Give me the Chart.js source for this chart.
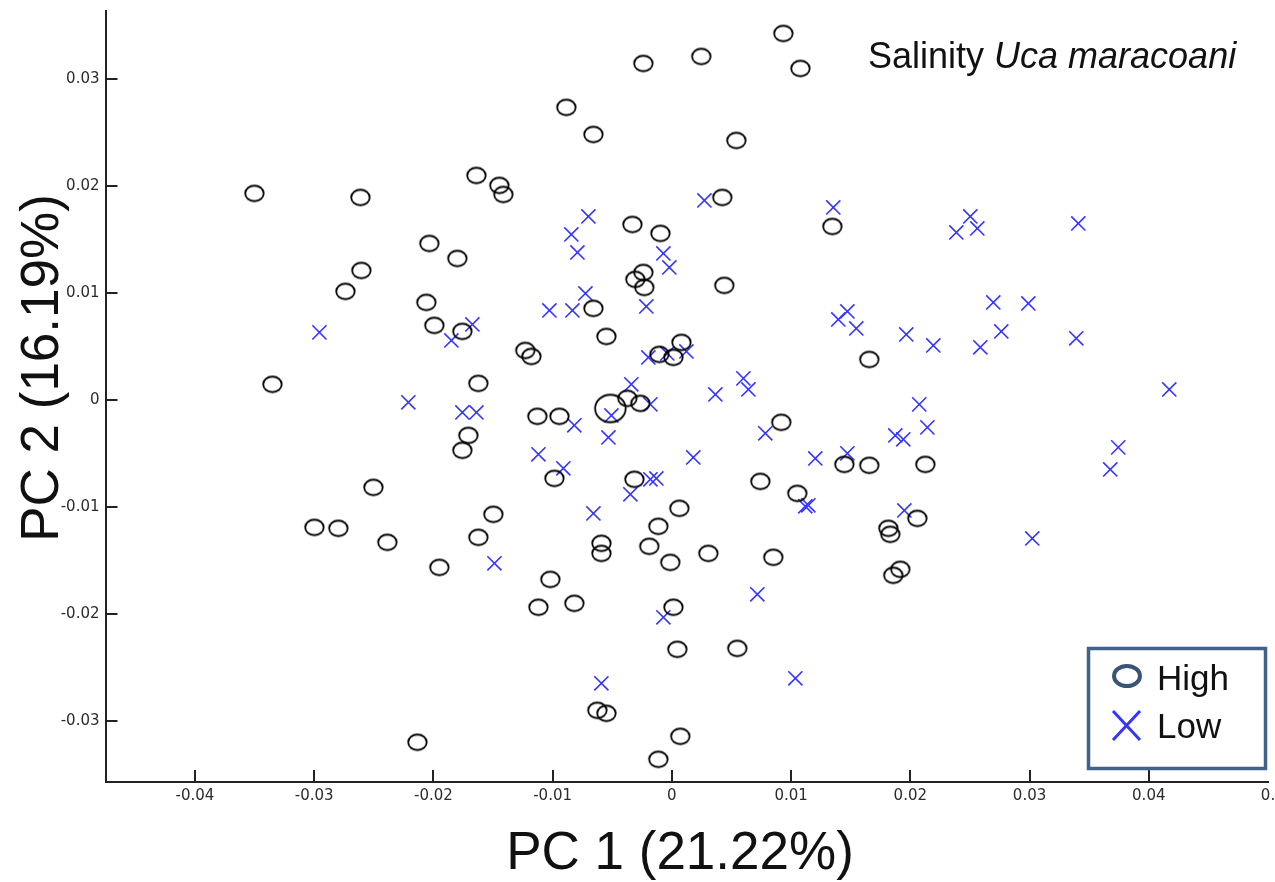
<!DOCTYPE html>
<html>
<head>
<meta charset="utf-8">
<title>Salinity Uca maracoani PCA</title>
<script src="https://cdn.jsdelivr.net/npm/chart.js@4.4.1/dist/chart.umd.min.js"></script>
<style>
  html, body { margin: 0; padding: 0; background: #fff; }
</style>
</head>
<body>
<canvas id="pca" width="1275" height="882"></canvas>
<script>
// PC scores
const highX = [0.00935, 0.00247, 0.01078, -0.00239, -0.00885, -0.00658, 0.00541, -0.03501, -0.02612, -0.01639,
  -0.01447, -0.01413, 0.00423, -0.00331, -0.00096, 0.01346, -0.02034, -0.01799, -0.02604, -0.02738,
  -0.02059, -0.01992, -0.01757, -0.00239, -0.00306, -0.00231, -0.00658, 0.00440, -0.00549, -0.01229,
  -0.01178, -0.00105, 0.00013, 0.00080, -0.03350, -0.01623, 0.01656, -0.00373, -0.00264, -0.01128,
  -0.00943, 0.00918, -0.01707, -0.01757, -0.00985, -0.00314, 0.00742, -0.02503, 0.01447, 0.01656,
  0.02126, 0.01052, -0.02998, -0.02797, -0.02386, -0.01497, 0.00063, -0.00113, -0.01623, -0.00591,
  -0.00591, -0.00189, 0.00306, -0.00013, 0.00851, 0.01816, 0.01832, 0.02059, 0.01916, 0.01857,
  -0.01950, -0.01019, -0.01119, -0.00818, 0.00013, 0.00046, 0.00549, -0.00625, -0.00549, 0.00071,
  -0.00113, -0.02134];
const highY = [0.03427, 0.03212, 0.03100, 0.03147, 0.02736, 0.02483, 0.02427, 0.01932, 0.01894, 0.02100,
  0.02007, 0.01922, 0.01894, 0.01642, 0.01558, 0.01623, 0.01464, 0.01324, 0.01212, 0.01016,
  0.00913, 0.00698, 0.00642, 0.01193, 0.01128, 0.01053, 0.00857, 0.01072, 0.00595, 0.00464,
  0.00408, 0.00427, 0.00399, 0.00539, 0.00147, 0.00156, 0.00380, 0.00016, -0.00031, -0.00152,
  -0.00152, -0.00208, -0.00330, -0.00470, -0.00732, -0.00741, -0.00760, -0.00816, -0.00601, -0.00610,
  -0.00601, -0.00872, -0.01190, -0.01199, -0.01330, -0.01068, -0.01012, -0.01180, -0.01283, -0.01339,
  -0.01433, -0.01367, -0.01433, -0.01517, -0.01470, -0.01199, -0.01255, -0.01106, -0.01582, -0.01638,
  -0.01564, -0.01676, -0.01937, -0.01900, -0.01937, -0.02330, -0.02321, -0.02900, -0.02928, -0.03143,
  -0.03358, -0.03199];

// the one large ring near the origin
const centerX = [-0.00516];
const centerY = [-0.00078];

const lowX = [-0.02956, -0.02210, -0.01757, -0.01639, -0.01673, -0.01849, -0.01488, -0.01119, -0.01027, -0.00834,
  -0.00700, -0.00843, -0.00792, -0.00725, -0.00910, -0.00818, -0.00658, -0.00591, -0.00532, -0.00507,
  -0.00340, -0.00348, -0.00214, -0.00180, -0.00197, -0.00038, 0.00122, -0.00071, -0.00021, -0.00180,
  -0.00130, -0.00071, 0.00180, 0.00273, 0.00365, 0.00600, 0.00642, 0.00717, 0.00784, 0.01036,
  0.01119, 0.01145, 0.01203, 0.01354, 0.01396, 0.01472, 0.01547, 0.01472, 0.01874, 0.01941,
  0.01966, 0.01950, 0.02075, 0.02143, 0.02193, 0.02386, 0.02503, 0.02562, 0.02587, 0.02696,
  0.02763, 0.02990, 0.03023, 0.03392, 0.03409, 0.03677, 0.03744, 0.04172];
const lowY = [0.00633, -0.00021, -0.00115, -0.00115, 0.00707, 0.00558, -0.01526, -0.00507, 0.00838, 0.00838,
  0.01717, 0.01549, 0.01380, 0.00997, -0.00638, -0.00236, -0.01059, -0.02648, -0.00349, -0.00143,
  0.00147, -0.00881, 0.00876, -0.00040, 0.00399, 0.00436, 0.00455, 0.01371, 0.01240, -0.00741,
  -0.00732, -0.02031, -0.00536, 0.01866, 0.00053, 0.00203, 0.00100, -0.01816, -0.00311, -0.02601,
  -0.00993, -0.00984, -0.00545, 0.01801, 0.00754, 0.00829, 0.00670, -0.00498, -0.00330, -0.00367,
  0.00614, -0.01031, -0.00040, -0.00255, 0.00511, 0.01567, 0.01717, 0.01605, 0.00493, 0.00913,
  0.00642, 0.00904, -0.01293, 0.00577, 0.01651, -0.00648, -0.00442, 0.00100];

const xTicks = [-0.04, -0.03, -0.02, -0.01, 0, 0.01, 0.02, 0.03, 0.04, 0.05];
const xTickLabels = ["-0.04", "-0.03", "-0.02", "-0.01", "0", "0.01", "0.02", "0.03", "0.04", "0."];
const yTicks = [-0.03, -0.02, -0.01, 0, 0.01, 0.02, 0.03];
const yTickLabels = ["-0.03", "-0.02", "-0.01", "0", "0.01", "0.02", "0.03"];

const xTitle = "PC 1 (21.22%)";
const yTitle = "PC 2 (16.19%)";
const titlePlain = "Salinity ";
const titleItalic = "Uca maracoani";
const groupNames = ["High", "Low"];

const SANS = '"Liberation Sans", Arial, sans-serif';
const TICK_FONT = { family: '"DejaVu Sans", Verdana, sans-serif', size: 15 };
const INK = "#111";
const LOW_BLUE = "#3535ff";

const toPoints = (xs, ys) => xs.map((x, i) => ({ x, y: ys[i] }));

// slightly flattened open rings, like the source markers
function ring(w, h, lw) {
  const c = document.createElement("canvas");
  c.width = Math.ceil(w + lw + 2);
  c.height = Math.ceil(h + lw + 2);
  const g = c.getContext("2d");
  g.strokeStyle = "#000";
  g.lineWidth = lw;
  g.beginPath();
  g.ellipse(c.width / 2, c.height / 2, w / 2, h / 2, 0, 0, Math.PI * 2);
  g.stroke();
  return c;
}

// fixed axis box: no extra room reserved for edge labels
function pinScale(s, size) {
  if (s.isHorizontal()) s.height = size; else s.width = size;
  s.paddingLeft = s.paddingRight = s.paddingTop = s.paddingBottom = 0;
}

const tickColor = (ctx) =>
  ctx.tick && Math.abs(ctx.tick.value - 0.05) < 1e-9 ? "rgba(0,0,0,0)" : "#222";

const decorations = {
  id: "decorations",
  afterDraw(chart) {
    const c = chart.ctx;
    c.save();
    c.fillStyle = INK;
    c.textBaseline = "alphabetic";

    // axis titles
    c.font = "53px " + SANS;
    c.textAlign = "center";
    c.fillText(xTitle, 680, 869);
    c.save();
    c.translate(58, 368);
    c.rotate(-Math.PI / 2);
    c.fillText(yTitle, 0, 0);
    c.restore();

    // panel title, species name in italics
    c.textAlign = "left";
    c.font = "36px " + SANS;
    c.fillText(titlePlain, 868, 68);
    const w = c.measureText(titlePlain).width;
    c.font = "italic 36px " + SANS;
    c.fillText(titleItalic, 868 + w, 68);

    // legend box
    c.strokeStyle = "#42618c";
    c.lineWidth = 3.5;
    c.strokeRect(1088.5, 648.5, 177, 120);

    c.strokeStyle = "#3a5475";
    c.lineWidth = 4;
    c.beginPath();
    c.ellipse(1127, 676, 13, 10, 0, 0, Math.PI * 2);
    c.stroke();

    c.strokeStyle = LOW_BLUE;
    c.lineWidth = 3;
    c.beginPath();
    c.moveTo(1113, 711); c.lineTo(1140, 740);
    c.moveTo(1140, 711); c.lineTo(1113, 740);
    c.stroke();

    c.fillStyle = INK;
    c.font = "35px " + SANS;
    c.fillText(groupNames[0], 1157, 690);
    c.fillText(groupNames[1], 1157, 738);
    c.restore();
  },
};

const ctx = document.getElementById("pca").getContext("2d");
new Chart(ctx, {
  type: "scatter",
  data: {
    datasets: [
      {
        label: groupNames[0],
        data: toPoints(highX, highY),
        pointStyle: ring(18.5, 15.5, 1.8),
        pointRadius: 10,
        borderColor: INK,
        backgroundColor: "transparent",
      },
      {
        label: groupNames[0] + " centre",
        data: toPoints(centerX, centerY),
        pointStyle: ring(30.5, 27.5, 1.8),
        pointRadius: 16,
        borderColor: INK,
        backgroundColor: "transparent",
      },
      {
        label: groupNames[1],
        data: toPoints(lowX, lowY),
        pointStyle: "crossRot",
        pointRadius: 10,
        borderWidth: 1.6,
        borderColor: LOW_BLUE,
        backgroundColor: LOW_BLUE,
      },
    ],
  },
  options: {
    responsive: false,
    animation: false,
    layout: { autoPadding: false, padding: { left: 0, top: 10.7, right: 7, bottom: 0 } },
    plugins: { legend: { display: false }, tooltip: { enabled: false } },
    scales: {
      x: {
        type: "linear",
        position: "bottom",
        min: -0.0475,
        max: 0.05,
        afterBuildTicks: (s) => { s.ticks = xTicks.map((value) => ({ value })); },
        afterFit: (s) => pinScale(s, 100),
        ticks: {
          callback: (v, i) => xTickLabels[i],
          font: TICK_FONT,
          color: "#2b2b2b",
          padding: 17,
          maxRotation: 0,
          autoSkip: false,
        },
        grid: { drawOnChartArea: false, tickLength: -12, lineWidth: 2, color: tickColor },
        border: { color: "#222", width: 2 },
      },
      y: {
        type: "linear",
        position: "left",
        min: -0.0357,
        max: 0.0364,
        afterBuildTicks: (s) => { s.ticks = yTicks.map((value) => ({ value })); },
        afterFit: (s) => pinScale(s, 105.5),
        ticks: {
          callback: (v, i) => yTickLabels[i],
          font: TICK_FONT,
          color: "#2b2b2b",
          padding: 18,
          autoSkip: false,
        },
        grid: { drawOnChartArea: false, tickLength: -12, lineWidth: 2, color: "#222" },
        border: { color: "#222", width: 2 },
      },
    },
  },
  plugins: [decorations],
});
</script>
</body>
</html>
